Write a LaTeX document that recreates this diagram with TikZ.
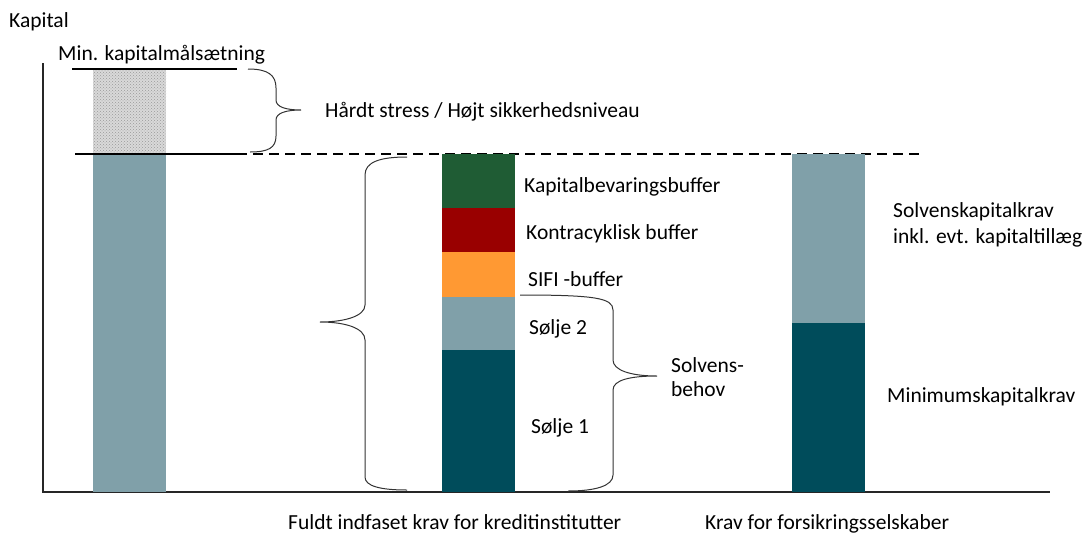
\documentclass[tikz,border=0pt]{standalone}
\usepackage{fontspec}
\setmainfont{Carlito}
\usepackage{tikz}
\usetikzlibrary{positioning, patterns}

\definecolor{bufgreen}{RGB}{31,92,52}
\definecolor{bufred}{RGB}{153,0,0}
\definecolor{buforange}{RGB}{255,153,51}
\definecolor{lightteal}{RGB}{128,160,169}
\definecolor{darkteal}{RGB}{0,76,91}

\begin{document}
\begin{tikzpicture}[x=1pt, y=-1pt,
    lbl/.style={anchor=base west, inner sep=0pt, font=\fontsize{21.5}{25}\selectfont},
    brc/.style={draw=black!80, line width=1pt}]
                \useasboundingbox (0,0) rectangle (1083,536);

                % akser
                \draw[line width=1.6pt, black!85] (43,63) -- (43,492) -- (1050,492);

                % venstre soejle
                \fill[lightteal] (93,154) rectangle (166,492);
                \fill[gray!30] (93,69) rectangle (166,154);
                \fill[pattern=crosshatch dots, pattern color=gray!80] (93,69) rectangle (166,154);
                \draw[line width=2pt] (72,69) -- (237,69);
                \draw[line width=1.8pt] (75,154) -- (237,154);
                \draw[line width=1.5pt, dash pattern=on 10pt off 6pt] (237,154) -- (925,154);

                % kreditinstitutter
                \fill[bufgreen]   (442,154) rectangle (515,208);
                \fill[bufred]     (442,208) rectangle (515,252);
                \fill[buforange]  (442,252) rectangle (515,297);
                \fill[lightteal]  (442,297) rectangle (515,350);
                \fill[darkteal]   (442,350) rectangle (515,492);

                % forsikring
                \fill[lightteal] (792,154) rectangle (865,323);
                \fill[darkteal]  (792,323) rectangle (865,492);

                % tuborg-klammer
                \draw[brc] (248,69) .. controls (268,69) and (276,75) .. (276,88) -- (276,100)
                    .. controls (276,107) and (286,110) .. (301,110)
                    .. controls (286,110) and (276,113) .. (276,120) -- (276,136)
                    .. controls (276,148) and (268,152) .. (250,152);
                \draw[brc] (407,157) .. controls (380,157) and (365,162) .. (365,175) -- (365,305)
                    .. controls (365,316) and (345,322) .. (320,322)
                    .. controls (345,322) and (365,328) .. (365,340) -- (365,477)
                    .. controls (365,486) and (380,490) .. (407,490);
                \draw[brc] (520,295) .. controls (595,295) and (613,298) .. (613,310) -- (613,360)
                    .. controls (613,370) and (630,376) .. (657,376)
                    .. controls (630,376) and (613,380) .. (613,390) -- (613,475)
                    .. controls (613,486) and (595,491) .. (568,491);

                \node[lbl] (kap) at (9,27) {Kapital};
                \node[lbl] (minmaal) at (58,60) {Min. kapitalmålsætning};
                \node[lbl] (stress) at (325,117) {Hårdt stress / Højt sikkerhedsniveau};

                \node[lbl] (kbb) at (524,192) {Kapitalbevaringsbuffer};
                \node[lbl] (kcb) at (526,239) {Kontracyklisk buffer};
                \node[lbl] (sifi) at (528,286) {SIFI -buffer};
                \node[lbl] (s2) at (529,334) {Sølje 2};
                \node[lbl] (s1) at (531,433) {Sølje 1};
                \node[lbl] (solv) at (671,372) {Solvens-};
                \node[lbl] (behov) at (671,396) {behov};

                \node[lbl] (skk) at (893,217) {Solvenskapitalkrav};
                \node[lbl] (inkl) at (893,243) {inkl. evt. kapitaltillæg};
                \node[lbl] (mkk) at (887,402) {Minimumskapitalkrav};

                \node[lbl] (kredit) at (288,529) {Fuldt indfaset krav for kreditinstitutter};
                \node[lbl] (fors) at (705,529) {Krav for forsikringsselskaber};
            \end{tikzpicture}
\end{document}
